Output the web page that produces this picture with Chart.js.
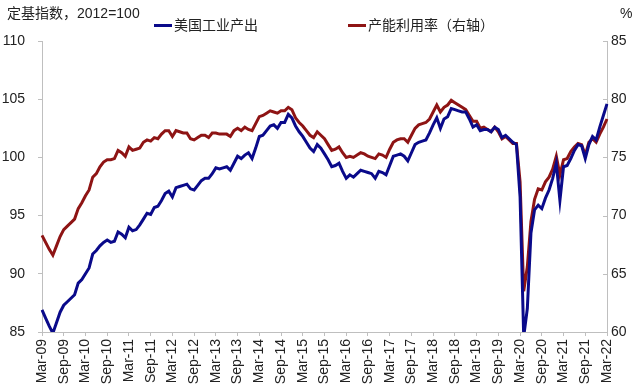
<!DOCTYPE html>
<html>
<head>
<meta charset="utf-8">
<script src="https://cdn.jsdelivr.net/npm/chart.js@4"></script>
<style>
    body { margin: 0; background: #fff; }
    #wrap { position: relative; width: 640px; height: 392px; font-family: "Liberation Sans", "Noto Sans CJK SC", sans-serif; color: #222; }
    #chart { position: absolute; left: 0; top: 0; }
    .txt { position: absolute; font-size: 14px; line-height: 16px; white-space: nowrap; }
    .leg { position: absolute; font-size: 14px; line-height: 16px; white-space: nowrap; }
    .leg i { display: inline-block; width: 18px; height: 3px; vertical-align: middle; margin-right: 2px; position: relative; top: -1px; }
</style>
</head>
<body>
<div id="wrap">
    <canvas id="chart" width="640" height="392"></canvas>
    <div class="txt" style="left:7px; top:5px;">定基指数，2012=100</div>
    <div class="txt" style="left:620px; top:5px;">%</div>
    <div class="leg" style="left:154px; top:17px;"><i style="background:#0a0a8a"></i>美国工业产出</div>
    <div class="leg" style="left:348px; top:17px;"><i style="background:#8e1414"></i>产能利用率（右轴）</div>
</div>
<script>
// 月度数据：2009年3月 - 2022年3月
const monthNames = ['Jan', 'Feb', 'Mar', 'Apr', 'May', 'Jun', 'Jul', 'Aug', 'Sep', 'Oct', 'Nov', 'Dec'];
const months = [];
for (let y = 2009, m = 2; months.length < 157; m++) {
    if (m > 11) { m = 0; y++; }
    months.push(monthNames[m] + '-' + String(y).slice(2));
}

// 美国工业产出 (2012=100)
const industrialOutput = [
    86.9, 86.2, 85.5, 84.9, 85.8, 86.7, 87.3, 87.6, 87.9, 88.2,
    89.2, 89.5, 90.0, 90.5, 91.7, 92.0, 92.4, 92.7, 92.9, 92.7, 92.8, 93.6,
    93.4, 93.1, 94.0, 93.7, 93.8, 94.2, 94.7, 95.2, 95.1, 95.7, 95.8, 96.3,
    96.9, 97.1, 96.6, 97.4, 97.5, 97.6, 97.7, 97.3, 97.2, 97.6, 98.0, 98.2,
    98.2, 98.6, 99.1, 99.0, 99.1, 99.2, 98.9, 99.5, 100.1, 99.9, 100.2, 100.4,
    99.9, 100.8, 101.8, 101.9, 102.3, 102.7, 102.8, 102.5, 103.0, 103.0, 103.7, 103.4,
    102.7, 102.2, 101.8, 101.3, 100.8, 100.5, 101.1, 100.8, 100.3, 99.8, 99.2, 99.3,
    99.5, 98.8, 98.2, 98.5, 98.3, 98.6, 98.9, 98.8, 98.7, 98.6, 98.2, 98.8,
    98.7, 98.5, 99.3, 100.1, 100.2, 100.3, 100.1, 99.7, 100.4, 101.1, 101.3, 101.4,
    101.5, 102.1, 102.8, 103.4, 102.5, 103.3, 103.5, 104.2, 104.1, 104.0, 103.9, 103.9,
    103.3, 102.6, 102.8, 102.3, 102.4, 102.4, 102.2, 102.6, 102.4, 101.7, 101.9, 101.6,
    101.3, 101.1, 96.6, 84.6, 87.0, 93.5, 95.5, 95.9, 95.6, 96.5, 97.2, 98.2,
    99.5, 96.3, 99.2, 99.3, 99.9, 100.6, 101.1, 101.0, 99.9, 101.1, 101.8, 101.5,
    102.6, 103.6, 104.6
];

// 产能利用率 (%)
const capacityUtil = [
    68.3, 67.7, 67.1, 66.6, 67.4, 68.2, 68.8, 69.1, 69.4, 69.7,
    70.6, 71.1, 71.7, 72.2, 73.3, 73.6, 74.2, 74.6, 74.8, 74.8, 74.9, 75.6,
    75.4, 75.1, 75.9, 75.6, 75.7, 75.8, 76.3, 76.5, 76.4, 76.7, 76.6, 77.0,
    77.3, 77.3, 76.8, 77.3, 77.2, 77.1, 77.1, 76.6, 76.5, 76.7, 76.9, 76.9,
    76.7, 77.1, 77.1, 77.0, 77.0, 77.0, 76.8, 77.3, 77.5, 77.3, 77.6, 77.4,
    77.3, 77.9, 78.5, 78.6, 78.8, 79.0, 78.9, 78.8, 79.0, 79.0, 79.3, 79.1,
    78.4, 78.0, 77.7, 77.3, 76.9, 76.7, 77.2, 76.9, 76.6, 76.1, 75.6, 75.7,
    75.9, 75.4, 75.0, 75.1, 75.0, 75.2, 75.4, 75.3, 75.1, 75.0, 74.9, 75.3,
    75.2, 75.0, 75.7, 76.3, 76.5, 76.6, 76.6, 76.3, 76.9, 77.5, 77.8, 77.9,
    78.0, 78.3, 78.9, 79.5, 78.9, 79.3, 79.5, 79.9, 79.7, 79.5, 79.3, 79.1,
    78.6, 78.1, 78.1, 77.5, 77.6, 77.4, 77.2, 77.6, 77.2, 76.6, 76.8, 76.5,
    76.2, 76.2, 72.9, 63.5, 65.6, 69.5, 71.4, 72.3, 72.2, 72.9, 73.3, 74.0,
    75.1, 73.5, 74.8, 74.9, 75.5, 75.9, 76.2, 76.1, 75.2, 76.3, 76.6, 76.3,
    77.0, 77.6, 78.3
];

const leftTicks = [85, 90, 95, 100, 105, 110];
const rightTicks = [60, 65, 70, 75, 80, 85];

const axisColor = '#bfbfbf';
const tickFont = { family: '"Liberation Sans", Arial, sans-serif', size: 14 };

// 右轴刻度线画在图内侧
const innerTicks = {
    id: 'innerTicks',
    afterDraw(chart) {
        const s = chart.scales.y1;
        const ctx = chart.ctx;
        ctx.save();
        ctx.strokeStyle = axisColor;
        ctx.lineWidth = 1;
        s.ticks.forEach(t => {
            const py = Math.round(s.getPixelForValue(t.value)) + 0.5;
            ctx.beginPath();
            ctx.moveTo(s.left - 4, py);
            ctx.lineTo(s.left, py);
            ctx.stroke();
        });
        ctx.restore();
    }
};

new Chart(document.getElementById('chart'), {
    type: 'line',
    data: {
        labels: months,
        datasets: [
            {
                label: '美国工业产出',
                data: industrialOutput,
                borderColor: '#0a0a8a',
                borderWidth: 3,
                pointRadius: 0,
                tension: 0,
                yAxisID: 'y'
            },
            {
                label: '产能利用率（右轴）',
                data: capacityUtil,
                borderColor: '#8e1414',
                borderWidth: 3,
                pointRadius: 0,
                tension: 0,
                yAxisID: 'y1'
            }
        ]
    },
    options: {
        responsive: false,
        animation: false,
        layout: { padding: { top: 41, left: 0, right: 0, bottom: 0 } },
        plugins: {
            legend: { display: false },
            tooltip: { enabled: false }
        },
        scales: {
            x: {
                offset: false,
                grid: {
                    drawOnChartArea: false,
                    tickLength: 4,
                    tickColor: (ctx) => ctx.index % 6 === 0 ? axisColor : 'rgba(0,0,0,0)'
                },
                border: { color: axisColor },
                ticks: {
                    autoSkip: false,
                    maxRotation: 90,
                    minRotation: 90,
                    padding: 3,
                    color: '#222',
                    font: tickFont,
                    callback: (val, i) => i % 6 === 0 ? months[i] : ''
                },
                afterFit: (s) => { s.height = 60; }
            },
            y: {
                position: 'left',
                min: leftTicks[0],
                max: leftTicks[leftTicks.length - 1],
                afterBuildTicks: (s) => { s.ticks = leftTicks.map(v => ({ value: v })); },
                grid: { drawOnChartArea: false, tickLength: 4, color: axisColor },
                border: { color: axisColor },
                ticks: { padding: 13, color: '#222', font: tickFont },
                afterFit: (s) => { s.width = 42; }
            },
            y1: {
                position: 'right',
                min: rightTicks[0],
                max: rightTicks[rightTicks.length - 1],
                afterBuildTicks: (s) => { s.ticks = rightTicks.map(v => ({ value: v })); },
                grid: { drawOnChartArea: false, drawTicks: false, color: axisColor },
                border: { color: axisColor },
                ticks: { padding: 4, color: '#222', font: tickFont },
                afterFit: (s) => { s.width = 33; }
            }
        }
    },
    plugins: [innerTicks]
});
</script>
</body>
</html>
